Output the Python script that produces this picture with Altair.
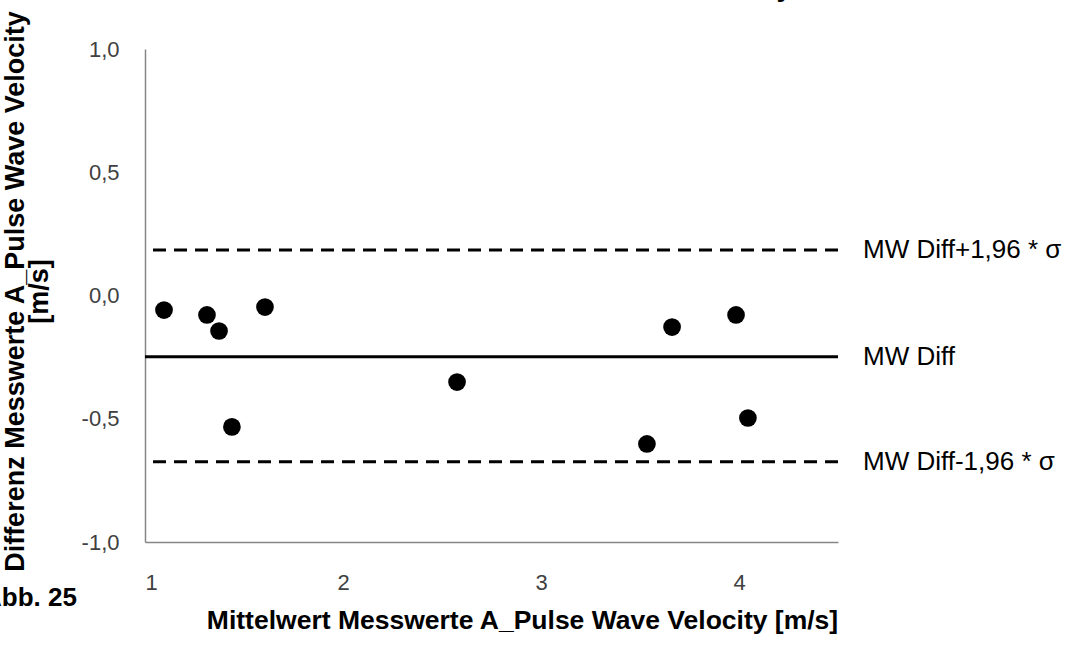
import altair as alt
import pandas as pd

# --- data ---
mean_vals = [1.096, 1.313, 1.374, 1.606, 1.439, 2.576, 3.535, 3.662, 3.985, 4.045]
diff_vals = [-0.059, -0.079, -0.144, -0.047, -0.533, -0.351, -0.602, -0.128, -0.079, -0.497]

line_names = ["MW Diff+1,96 * σ", "MW Diff", "MW Diff-1,96 * σ"]
line_values = [0.185, -0.248, -0.674]
line_dashed = [True, False, True]

x_ticks = [1, 2, 3, 4]
y_ticks = [-1.0, -0.5, 0.0, 0.5, 1.0]

FONT = "Liberation Sans"

pts = pd.DataFrame({"x": mean_vals, "y": diff_vals})
lines = pd.DataFrame({"name": line_names, "v": line_values, "dashed": line_dashed})

xs = alt.Scale(domain=[1, 4.5], nice=False, zero=False)
ys = alt.Scale(domain=[-1, 1], nice=False, zero=False)

x_axis = alt.Axis(
    values=x_ticks, ticks=False, grid=False, labelPadding=30,
    labelFontSize=22, labelColor="#404040", labelFont=FONT,
    domainColor="#868686", domainWidth=1.5,
    title="Mittelwert Messwerte A_Pulse Wave Velocity [m/s]",
    titleFontSize=26.5, titleFont=FONT, titleFontWeight="bold", titleColor="black",
    titleX=377, titleY=78, titleBaseline="middle", titleAnchor="middle", titleAlign="center",
)
y_axis = alt.Axis(
    values=y_ticks, ticks=False, grid=False, labelPadding=26,
    labelExpr="replace(replace(format(datum.value, '.1f'), '.', ','), '\u2212', '-')",
    labelFontSize=22, labelColor="#404040", labelFont=FONT,
    domainColor="#868686", domainWidth=1.5,
    title=["Differenz  Messwerte A_Pulse Wave Velocity", "[m/s]"],
    titleFontSize=27, titleFont=FONT, titleFontWeight="bold", titleColor="black",
    titleX=-130, titleY=242, titleAngle=270, titleBaseline="middle",
    titleAlign="center", titleLineHeight=24,
)

points = alt.Chart(pts).mark_circle(size=314, color="black", opacity=1).encode(
    x=alt.X("x:Q", scale=xs, axis=x_axis),
    y=alt.Y("y:Q", scale=ys, axis=y_axis),
)

solid = alt.Chart(lines).transform_filter("!datum.dashed").mark_rule(
    color="black", strokeWidth=3
).encode(y=alt.Y("v:Q", scale=ys))

dashed = alt.Chart(lines).transform_filter("datum.dashed").mark_rule(
    color="black", strokeWidth=3, strokeDash=[13, 8]
).encode(y=alt.Y("v:Q", scale=ys))

labels = alt.Chart(lines).mark_text(
    align="left", baseline="middle", fontSize=26, font=FONT, color="black"
).encode(
    x=alt.value(718),
    y=alt.Y("v:Q", scale=ys),
    text="name:N",
)

fig_label = alt.Chart(pd.DataFrame({"t": ["Abb. 25"]})).mark_text(
    align="right", baseline="middle", fontSize=26, font=FONT, fontWeight="bold", color="black"
).encode(x=alt.value(-68), y=alt.value(549), text="t:N")

top_title = alt.Chart(pd.DataFrame({"t": ["Bland-Altman-Plot A_Pulse Wave Velocity"]})).mark_text(
    align="right", baseline="alphabetic", fontSize=28, font=FONT, fontWeight="bold", color="black"
).encode(x=alt.value(647), y=alt.value(-53), text="t:N")

chart = alt.layer(dashed, solid, points, labels, fig_label, top_title).properties(
    width=693,
    height=493,
    padding={"left": 145, "top": 49, "right": 234, "bottom": 117},
    autosize=alt.AutoSizeParams(type="none"),
    background="white",
).configure_view(stroke=None)

chart.save("out.html", embed_options={"renderer": "svg", "actions": False})
